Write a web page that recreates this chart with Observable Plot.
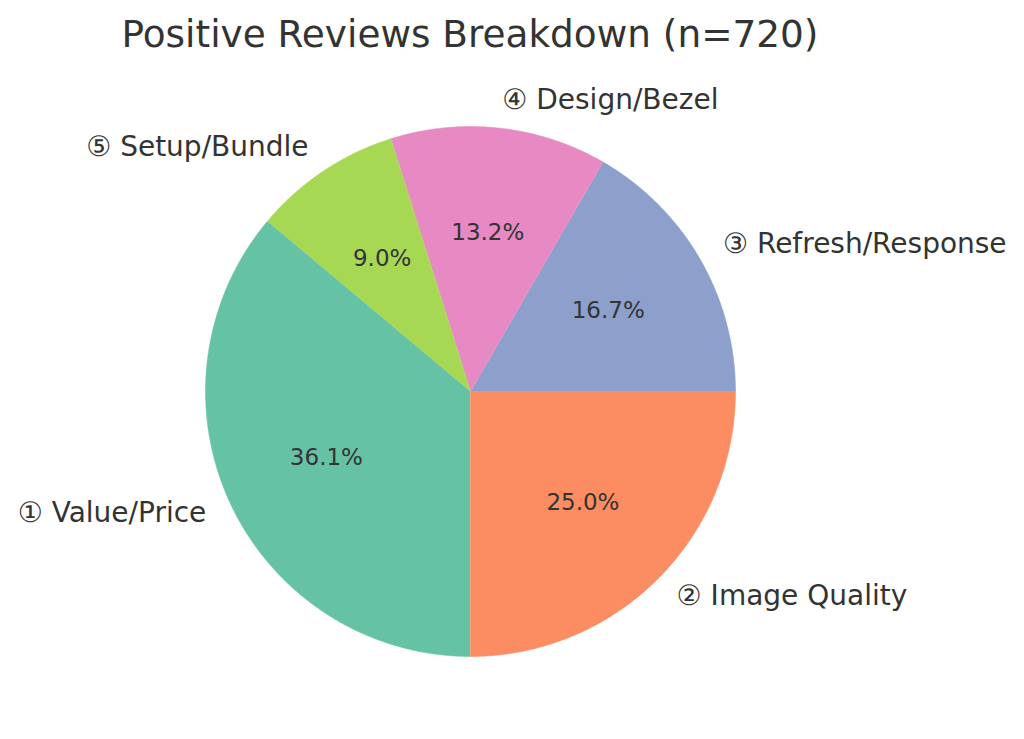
<!DOCTYPE html>
<html>
<head>
<meta charset="utf-8">
<script src="https://cdn.jsdelivr.net/npm/d3@7"></script>
<script src="https://cdn.jsdelivr.net/npm/@observablehq/plot@0.6"></script>
<style>
  html, body { margin: 0; padding: 0; background: #fff; }
  #title { box-sizing: border-box; width: 940px; height: 70px; padding-top: 16px; text-align: center;
    font-family: "DejaVu Sans", sans-serif; font-size: 37.4px; line-height: 37px; color: #333333; white-space: nowrap; }
  svg { display: block; }
</style>
</head>
<body>
<div id="title">Positive Reviews Breakdown (n=720)</div>
<div id="chart"></div>
<script>
const categories = ["① Value/Price", "② Image Quality", "③ Refresh/Response", "④ Design/Bezel", "⑤ Setup/Bundle"];
const counts = [260, 180, 120, 95, 65];
const colors = ["#66c2a5", "#fc8d62", "#8da0cb", "#e78ac3", "#a6d854"];
const startAngle = 140;

const W = 1024, H = 669, cx = 470, cy = 321, R = 265;
const total = d3.sum(counts);

const slices = [];
let a = startAngle;
categories.forEach((c, i) => {
  const span = counts[i] / total * 360;
  slices.push({label: c, a0: a, a1: a + span, frac: counts[i] / total});
  a += span;
});
const rad = d => d * Math.PI / 180;

const pts = [];
for (const s of slices) {
  pts.push({label: s.label, x: 0, y: 0});
  const n = Math.max(2, Math.ceil((s.a1 - s.a0) / 0.5));
  for (let k = 0; k <= n; k++) {
    const t = rad(s.a0 + (s.a1 - s.a0) * k / n);
    pts.push({label: s.label, x: Math.cos(t), y: Math.sin(t)});
  }
}

const labels = slices.map(s => {
  const m = rad((s.a0 + s.a1) / 2);
  return {
    label: s.label,
    x: 1.1 * Math.cos(m), y: 1.1 * Math.sin(m),
    px: 0.6 * Math.cos(m), py: 0.6 * Math.sin(m),
    pct: (s.frac * 100).toFixed(1) + "%"
  };
});

const chart = Plot.plot({
  width: W, height: H,
  margin: 0,
  style: {fontFamily: "'DejaVu Sans', sans-serif", background: "#fff", color: "#333333"},
  x: {domain: [-cx / R, (W - cx) / R], axis: null},
  y: {domain: [-(H - cy) / R, cy / R], axis: null},
  color: {domain: categories, range: colors},
  marks: [
    Plot.line(pts, {x: "x", y: "y", z: "label", fill: "label", stroke: "label", strokeWidth: 0.5}),
    Plot.text(labels.filter(d => d.x < 0), {x: "x", y: "y", text: "label", textAnchor: "end", fontSize: 28, dy: -2, fill: "#333333"}),
    Plot.text(labels.filter(d => d.x >= 0), {x: "x", y: "y", text: "label", textAnchor: "start", fontSize: 28, dy: -2, fill: "#333333"}),
    Plot.text(labels, {x: "px", y: "py", text: "pct", fontSize: 23, dy: -1, fill: "#333333"})
  ]
});
document.getElementById("chart").appendChild(chart);
</script>
</body>
</html>
